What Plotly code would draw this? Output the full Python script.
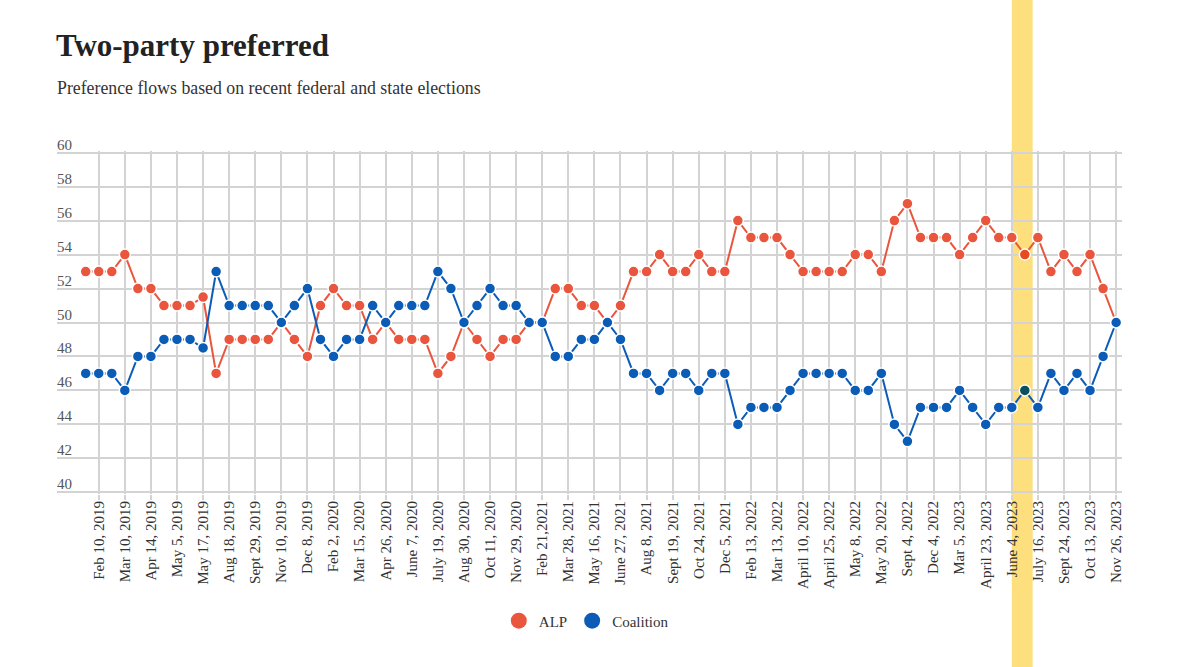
import plotly.graph_objects as go

# ---- data -------------------------------------------------------------
# 80 polls; every second poll (odd positions) carries a date label
tick_labels = [
    "Feb 10, 2019", "Mar 10, 2019", "Apr 14, 2019", "May 5, 2019", "May 17, 2019",
    "Aug 18, 2019", "Sept 29, 2019", "Nov 10, 2019", "Dec 8, 2019", "Feb 2, 2020",
    "Mar 15, 2020", "Apr 26, 2020", "June 7, 2020", "July 19, 2020", "Aug 30, 2020",
    "Oct 11, 2020", "Nov 29, 2020", "Feb 21,2021", "Mar 28, 2021", "May 16, 2021",
    "June 27, 2021", "Aug 8, 2021", "Sept 19, 2021", "Oct 24, 2021", "Dec 5, 2021",
    "Feb 13, 2022", "Mar 13, 2022", "April 10, 2022", "April 25, 2022", "May 8, 2022",
    "May 20, 2022", "Sept 4, 2022", "Dec 4, 2022", "Mar 5, 2023", "April 23, 2023",
    "June 4, 2023", "July 16, 2023", "Sept 24, 2023", "Oct 13, 2023", "Nov 26, 2023",
]

alp = [
    53, 53, 53, 54, 52, 52, 51, 51, 51, 51.5,
    47, 49, 49, 49, 49, 50, 49, 48, 51, 52,
    51, 51, 49, 50, 49, 49, 49, 47, 48, 50,
    49, 48, 49, 49, 50, 50, 52, 52, 51, 51,
    50, 51, 53, 53, 54, 53, 53, 54, 53, 53,
    56, 55, 55, 55, 54, 53, 53, 53, 53, 54,
    54, 53, 56, 57, 55, 55, 55, 54, 55, 56,
    55, 55, 54, 55, 53, 54, 53, 54, 52, 50,
]

coalition = [
    47, 47, 47, 46, 48, 48, 49, 49, 49, 48.5,
    53, 51, 51, 51, 51, 50, 51, 52, 49, 48,
    49, 49, 51, 50, 51, 51, 51, 53, 52, 50,
    51, 52, 51, 51, 50, 50, 48, 48, 49, 49,
    50, 49, 47, 47, 46, 47, 47, 46, 47, 47,
    44, 45, 45, 45, 46, 47, 47, 47, 47, 46,
    46, 47, 44, 43, 45, 45, 45, 46, 45, 44,
    45, 45, 46, 45, 47, 46, 47, 46, 48, 50,
]

y_ticks = [40, 42, 44, 46, 48, 50, 52, 54, 56, 58, 60]

x_pos = list(range(len(alp)))
tick_pos = x_pos[1::2]
highlight_label = "June 4, 2023"

# ---- style ------------------------------------------------------------
RED = "#E9553D"
BLUE = "#0B5CB7"
BAND = "#FDDF7E"
SERIF = "Liberation Serif, Times New Roman, serif"

hi = tick_pos[tick_labels.index(highlight_label)]
band_x0, band_x1 = hi, hi + 1.6


def multiply(c1, c2):
    a = [int(c1[i:i + 2], 16) for i in (1, 3, 5)]
    b = [int(c2[i:i + 2], 16) for i in (1, 3, 5)]
    return "#" + "".join(f"{round(p * q / 255):02X}" for p, q in zip(a, b))


fig = go.Figure()

for name, vals, col in [("ALP", alp, RED), ("Coalition", coalition, BLUE)]:
    colors = [multiply(col, BAND) if band_x0 < xv < band_x1 else col for xv in x_pos]
    fig.add_trace(go.Scatter(
        x=x_pos, y=vals, mode="lines+markers", name=name, showlegend=False,
        line=dict(color=col, width=2),
        marker=dict(color=colors, size=11, line=dict(color="white", width=1.5)),
        hoverinfo="skip",
    ))

# legend-only entries (large circles, no line)
for name, col in [("ALP", RED), ("Coalition", BLUE)]:
    fig.add_trace(go.Scatter(
        x=[None], y=[None], mode="markers", name=name,
        marker=dict(color=col, size=18),
    ))

# highlight band around June 2023
fig.add_shape(
    type="rect", xref="x", yref="paper",
    x0=band_x0, x1=band_x1, y0=-0.7, y1=1.7,
    fillcolor=BAND, line=dict(width=0), layer="below",
)

# y tick labels sit above their gridlines, at the left edge of the plot
for v in y_ticks:
    fig.add_annotation(
        text=str(v), xref="paper", yref="y", x=-0.002, y=v,
        xanchor="left", yanchor="bottom", showarrow=False, yshift=-2,
        font=dict(family=SERIF, size=15, color="#555555"),
    )

fig.add_annotation(
    text="<b>Two-party preferred</b>", xref="paper", yref="paper",
    x=-0.003, y=1.309, xanchor="left", yanchor="middle", showarrow=False,
    font=dict(family=SERIF, size=31, color="#222222"),
)
fig.add_annotation(
    text="Preference flows based on recent federal and state elections",
    xref="paper", yref="paper", x=-0.002, y=1.184, xanchor="left", yanchor="middle",
    showarrow=False, font=dict(family=SERIF, size=17.8, color="#333333"),
)

fig.update_layout(
    width=1200, height=667,
    margin=dict(l=57, r=78, t=151, b=173),
    paper_bgcolor="white", plot_bgcolor="white",
    font=dict(family=SERIF, color="#333333"),
    showlegend=True,
    legend=dict(
        orientation="h", x=0.497, xanchor="center", y=-0.37, yanchor="middle",
        font=dict(family=SERIF, size=15, color="#333333"),
        itemwidth=30,
    ),
    xaxis=dict(
        range=[-2.2, 79.45], tickmode="array", tickvals=tick_pos, ticktext=tick_labels,
        tickangle=-90, showgrid=True, gridcolor="#D3D3D3", gridwidth=1.5,
        ticks="outside", ticklen=5, tickcolor="#D3D3D3", tickwidth=1.5,
        ticklabelstandoff=-5,
        zeroline=False, showline=False,
        tickfont=dict(family=SERIF, size=15, color="#333333"),
    ),
    yaxis=dict(
        range=[39.9, 60.1], tickmode="array", tickvals=y_ticks,
        showgrid=True, gridcolor="#D3D3D3", gridwidth=1.8,
        showticklabels=False, ticks="", zeroline=False, showline=False,
    ),
)

fig.write_html(
    "out.html",
    config={"displayModeBar": False},
    post_script="document.body.style.margin='0';document.body.style.overflow='hidden';",
)
